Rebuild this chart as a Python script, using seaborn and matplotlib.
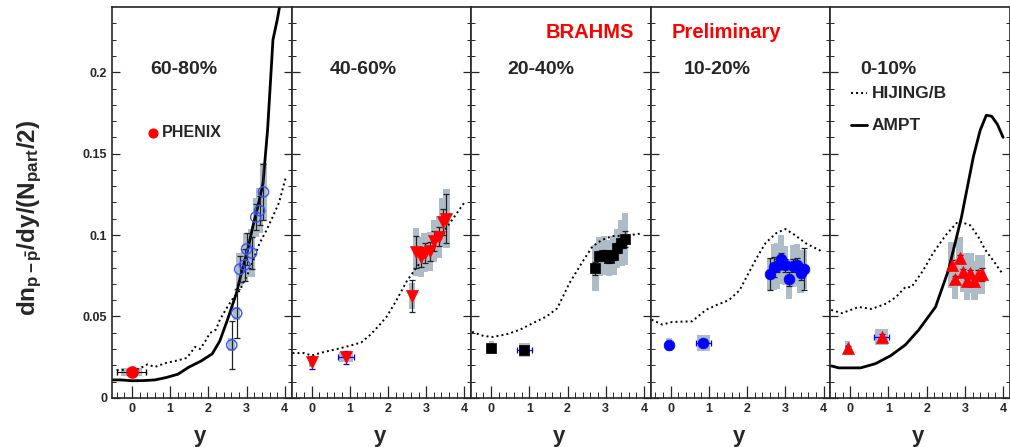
import matplotlib
matplotlib.use("Agg")
import matplotlib.pyplot as plt
import seaborn as sns
import numpy as np

sns.set_style("ticks")
plt.rcParams['font.family'] = ['Liberation Sans', 'DejaVu Sans']
plt.rcParams['font.weight'] = 'bold'
plt.rcParams['mathtext.fontset'] = 'custom'
plt.rcParams['mathtext.rm'] = 'Liberation Sans:bold'
plt.rcParams['mathtext.it'] = 'Liberation Sans:bold'
plt.rcParams['mathtext.bf'] = 'Liberation Sans:bold'

# ---------------- data ----------------
centralities = ["60-80%", "40-60%", "20-40%", "10-20%", "0-10%"]

# HIJING/B curves
hij1_x = [-0.4, -0.2, 0, 0.2, 0.4, 0.6, 0.9, 1.2, 1.43, 1.55, 1.65, 1.78, 1.9, 2.04, 2.2, 2.3, 2.45, 2.61, 2.82, 3.08, 3.34, 3.5, 3.68, 3.85, 4.02]
hij1_v = [0.017, 0.0172, 0.017, 0.018, 0.0205, 0.019, 0.0215, 0.023, 0.0245, 0.028, 0.0313, 0.030, 0.034, 0.0398, 0.042, 0.048, 0.054, 0.060, 0.066, 0.0785, 0.095, 0.102, 0.111, 0.12, 0.135]
hij2_x = [-0.5, -0.2, 0, 0.3, 0.67, 1.0, 1.3, 1.53, 1.75, 1.97, 2.2, 2.5, 2.84, 3.1, 3.36, 3.7, 4.0]
hij2_v = [0.0275, 0.0275, 0.026, 0.028, 0.030, 0.032, 0.034, 0.0386, 0.044, 0.050, 0.059, 0.072, 0.083, 0.091, 0.099, 0.11, 0.12]
hij3_x = [-0.5, -0.2, 0.04, 0.4, 0.74, 1.1, 1.45, 1.73, 2.05, 2.35, 2.65, 2.9, 3.17, 3.5, 3.95]
hij3_v = [0.0405, 0.038, 0.0374, 0.039, 0.0417, 0.046, 0.05, 0.055, 0.0705, 0.082, 0.093, 0.097, 0.0994, 0.0995, 0.101]
hij4_x = [-0.5, -0.22, 0.04, 0.56, 0.92, 1.2, 1.52, 1.8, 2.04, 2.25, 2.48, 2.75, 3.0, 3.25, 3.53, 3.95]
hij4_v = [0.048, 0.045, 0.0466, 0.047, 0.054, 0.057, 0.06, 0.066, 0.0767, 0.086, 0.095, 0.101, 0.1037, 0.1, 0.095, 0.09]
hij5_x = [-0.5, -0.22, 0.22, 0.56, 0.95, 1.2, 1.44, 1.6, 1.9, 2.17, 2.5, 2.83, 3.14, 3.35, 3.53, 3.75, 3.96]
hij5_v = [0.054, 0.052, 0.0558, 0.0546, 0.058, 0.062, 0.068, 0.068, 0.078, 0.089, 0.1, 0.1086, 0.106, 0.099, 0.091, 0.084, 0.077]

# AMPT curves
ampt1_x = [-0.52, -0.3, 0, 0.3, 0.6, 0.9, 1.2, 1.5, 1.8, 2.1, 2.3, 2.5, 2.73, 2.9, 3.05, 3.16, 3.3, 3.43, 3.55, 3.69, 3.8, 3.9]
ampt1_v = [0.011, 0.011, 0.0105, 0.0106, 0.011, 0.0125, 0.0145, 0.019, 0.0225, 0.027, 0.035, 0.048, 0.064, 0.08, 0.093, 0.105, 0.118, 0.132, 0.165, 0.22, 0.232, 0.245]
ampt5_x = [-0.5, -0.3, 0.27, 0.66, 1.05, 1.44, 1.79, 2.23, 2.57, 2.91, 3.22, 3.4, 3.56, 3.7, 3.85, 4.0]
ampt5_v = [0.0196, 0.0184, 0.0184, 0.021, 0.0258, 0.0325, 0.0417, 0.0558, 0.0785, 0.111, 0.148, 0.1644, 0.1736, 0.173, 0.168, 0.16]

# low-rapidity points (y ~ 0 and ~0.9)
low1_x = [0.0];            low1_v = [0.016];            low1_ye = [0.001];         low1_xe = [0.38];        low1_sys = [0.0025];        low1_w = [0.55]
low2_x = [0.0, 0.9];       low2_v = [0.022, 0.025];     low2_ye = [0.004, 0.004];  low2_xe = [0.05, 0.2];   low2_sys = [0.003, 0.003];  low2_w = [0.12, 0.35]
low3_x = [0.0, 0.87];      low3_v = [0.0307, 0.0294];   low3_ye = [0.001, 0.001];  low3_xe = [0.02, 0.2];   low3_sys = [0.004, 0.0045]; low3_w = [0.13, 0.3]
low4_x = [-0.04, 0.85];    low4_v = [0.0325, 0.0337];   low4_ye = [0.001, 0.001];  low4_xe = [0.02, 0.2];   low4_sys = [0.004, 0.005];  low4_w = [0.15, 0.35]
low5_x = [-0.07, 0.82];    low5_v = [0.0307, 0.0374];   low5_ye = [0.001, 0.002];  low5_xe = [0.03, 0.2];   low5_sys = [0.004, 0.005];  low5_w = [0.15, 0.33]

# forward-rapidity points
fw1_x = [2.61, 2.74, 2.82, 2.95, 3.00, 3.13, 3.24, 3.34, 3.44]
fw1_v = [0.0325, 0.052, 0.079, 0.0816, 0.0914, 0.089, 0.111, 0.115, 0.1265]
fw1_e = [0.015, 0.015, 0.008, 0.01, 0.01, 0.01, 0.008, 0.009, 0.017]
fw1_s = [0.004, 0.004, 0.01, 0.01, 0.01, 0.015, 0.012, 0.014, 0.018]
fw2_x = [2.63, 2.73, 2.86, 2.96, 3.10, 3.20, 3.33, 3.43, 3.53]
fw2_v = [0.0626, 0.0896, 0.0865, 0.089, 0.09, 0.0963, 0.099, 0.108, 0.11]
fw2_e = [0.01, 0.01, 0.006, 0.006, 0.006, 0.006, 0.006, 0.008, 0.015]
fw2_s = [0.008, 0.015, 0.012, 0.012, 0.012, 0.013, 0.013, 0.015, 0.018]
fw3_x = [2.73, 2.83, 2.96, 3.09, 3.20, 3.30, 3.41, 3.51]
fw3_v = [0.0797, 0.087, 0.0877, 0.086, 0.0877, 0.092, 0.095, 0.0975]
fw3_e = [0.004, 0.003, 0.003, 0.003, 0.003, 0.003, 0.003, 0.005]
fw3_s = [0.014, 0.012, 0.012, 0.011, 0.012, 0.012, 0.014, 0.016]
fw4_x = [2.6, 2.7, 2.78, 2.88, 2.99, 3.1, 3.2, 3.3, 3.4, 3.48]
fw4_v = [0.076, 0.0805, 0.081, 0.0852, 0.0815, 0.073, 0.081, 0.0816, 0.0766, 0.079]
fw4_e = [0.01, 0.006, 0.004, 0.004, 0.004, 0.004, 0.004, 0.004, 0.004, 0.013]
fw4_s = [0.01, 0.014, 0.014, 0.015, 0.012, 0.012, 0.013, 0.013, 0.012, 0.012]
fw5_x = [2.65, 2.74, 2.86, 2.96, 3.05, 3.14, 3.25, 3.35, 3.44]
fw5_v = [0.0816, 0.073, 0.086, 0.077, 0.072, 0.0767, 0.072, 0.0755, 0.076]
fw5_e = [0.003, 0.002, 0.002, 0.002, 0.002, 0.002, 0.002, 0.003, 0.004]
fw5_s = [0.014, 0.012, 0.013, 0.012, 0.012, 0.012, 0.012, 0.012, 0.012]

x_ticks = [0, 1, 2, 3, 4]
y_ticks = [0, 0.05, 0.1, 0.15, 0.2]
y_tick_labels = ["0", "0.05", "0.1", "0.15", "0.2"]

# ---------------- styles ----------------
GRAY = "#aebcc8"
RED = "#ff0000"
BLUE = "#0000ff"
HIJ_LS = (0, (1.0, 1.6))

fig, axes = plt.subplots(1, 5, figsize=(10.1, 4.47), dpi=100, sharey=True)
fig.subplots_adjust(left=0.111, right=1.0, bottom=0.11, top=0.984, wspace=0)

panels = [
    dict(hx=hij1_x, hv=hij1_v, ax_=ampt1_x, av=ampt1_v,
         lx=low1_x, lv=low1_v, lye=low1_ye, lxe=low1_xe, ls=low1_sys, lw=low1_w,
         fx=fw1_x, fv=fw1_v, fe=fw1_e, fs=fw1_s, marker='o', mfc='none', mec="#3355ff", msz=55),
    dict(hx=hij2_x, hv=hij2_v, ax_=None, av=None,
         lx=low2_x, lv=low2_v, lye=low2_ye, lxe=low2_xe, ls=low2_sys, lw=low2_w,
         fx=fw2_x, fv=fw2_v, fe=fw2_e, fs=fw2_s, marker='v', mfc=RED, mec=RED, msz=75),
    dict(hx=hij3_x, hv=hij3_v, ax_=None, av=None,
         lx=low3_x, lv=low3_v, lye=low3_ye, lxe=low3_xe, ls=low3_sys, lw=low3_w,
         fx=fw3_x, fv=fw3_v, fe=fw3_e, fs=fw3_s, marker='s', mfc='black', mec='black', msz=50),
    dict(hx=hij4_x, hv=hij4_v, ax_=None, av=None,
         lx=low4_x, lv=low4_v, lye=low4_ye, lxe=low4_xe, ls=low4_sys, lw=low4_w,
         fx=fw4_x, fv=fw4_v, fe=fw4_e, fs=fw4_s, marker='o', mfc=BLUE, mec=BLUE, msz=60),
    dict(hx=hij5_x, hv=hij5_v, ax_=ampt5_x, av=ampt5_v,
         lx=low5_x, lv=low5_v, lye=low5_ye, lxe=low5_xe, ls=low5_sys, lw=low5_w,
         fx=fw5_x, fv=fw5_v, fe=fw5_e, fs=fw5_s, marker='^', mfc=RED, mec=RED, msz=75),
]

label_pos = [0.40, 0.40, 0.385, 0.37, 0.32]

for i, (ax, p) in enumerate(zip(axes, panels)):
    # systematic boxes
    ax.bar(p['fx'], [2 * s for s in p['fs']], bottom=[v - s for v, s in zip(p['fv'], p['fs'])],
           width=0.17, color=GRAY, edgecolor='none', zorder=1)
    ax.bar(p['lx'], [2 * s for s in p['ls']], bottom=[v - s for v, s in zip(p['lv'], p['ls'])],
           width=p['lw'], color=GRAY, edgecolor='none', zorder=1)
    # model curves
    sns.lineplot(x=p['hx'], y=p['hv'], ax=ax, sort=False, estimator=None, color='black',
                 linewidth=1.4, linestyle=HIJ_LS, zorder=2)
    if p['ax_'] is not None:
        sns.lineplot(x=p['ax_'], y=p['av'], ax=ax, sort=False, estimator=None, color='black',
                     linewidth=2.0, zorder=2)
    # error bars
    ax.errorbar(p['fx'], p['fv'], yerr=p['fe'], fmt='none', ecolor='#222222',
                elinewidth=0.9, capsize=2, capthick=0.9, zorder=3)
    if i == 0:
        ax.errorbar(p['lx'], p['lv'], xerr=p['lxe'], yerr=p['lye'], fmt='none', ecolor='black',
                    elinewidth=0.8, capsize=2, zorder=3, linestyle='--')
        sns.scatterplot(x=p['lx'], y=p['lv'], ax=ax, marker='o', s=70, color=RED,
                        edgecolor=RED, zorder=4)
        sns.scatterplot(x=p['fx'], y=p['fv'], ax=ax, marker='o', s=p['msz'], facecolor='none',
                        edgecolor=p['mec'], linewidth=1.0, zorder=4)
    else:
        ax.errorbar(p['lx'], p['lv'], xerr=p['lxe'], yerr=p['lye'], fmt='none', ecolor=BLUE,
                    elinewidth=0.9, capsize=2, capthick=0.9, zorder=3)
        for xs, vs in ((p['lx'], p['lv']), (p['fx'], p['fv'])):
            sns.scatterplot(x=xs, y=vs, ax=ax, marker=p['marker'], s=p['msz'], color=p['mfc'],
                            edgecolor=p['mec'], linewidth=0.5, zorder=4)

    ax.set_xlim(-0.52, 4.18)
    ax.set_ylim(0, 0.24)
    ax.set_xticks(x_ticks)
    ax.set_xticklabels([str(t) for t in x_ticks], fontsize=9, fontweight='bold')
    ax.set_xticks(np.arange(-0.4, 4.2, 0.2), minor=True)
    ax.set_yticks(y_ticks)
    ax.set_yticks(np.arange(0, 0.24, 0.01), minor=True)
    ax.tick_params(axis='x', which='major', direction='in', length=9, width=0.9, pad=4)
    ax.tick_params(axis='x', which='minor', direction='in', length=4.5, width=0.7)
    ax.tick_params(axis='y', which='major', direction='in', length=6, width=0.9,
                   left=True, right=True)
    ax.tick_params(axis='y', which='minor', direction='in', length=3, width=0.7,
                   left=True, right=True)
    for sp in ax.spines.values():
        sp.set_linewidth(1.2)
        sp.set_visible(True)
    ax.set_xlabel("")
    ax.set_ylabel("")
    ax.text(0.49, -0.1, "y", transform=ax.transAxes, ha='center', va='center',
            fontsize=16, fontweight='bold')
    ax.text(label_pos[i], 0.84, centralities[i], transform=ax.transAxes, ha='center',
            va='center', fontsize=14, fontweight='bold')

axes[0].set_yticklabels(y_tick_labels, fontsize=9, fontweight='bold')

# PHENIX legend
axes[0].scatter([0.228], [0.678], transform=axes[0].transAxes, s=40, color=RED, zorder=5)
axes[0].text(0.275, 0.678, "PHENIX", transform=axes[0].transAxes, ha='left', va='center',
             fontsize=11.5, fontweight='bold')

# BRAHMS Preliminary
axes[2].text(0.66, 0.936, "BRAHMS", transform=axes[2].transAxes, ha='center', va='center',
             fontsize=14.5, fontweight='bold', color=RED)
axes[3].text(0.42, 0.936, "Preliminary", transform=axes[3].transAxes, ha='center', va='center',
             fontsize=14.5, fontweight='bold', color=RED)

# model legend
ax5 = axes[4]
ax5.plot([0.117, 0.206], [0.78, 0.78], transform=ax5.transAxes, color='black',
         linewidth=1.4, linestyle=HIJ_LS)
ax5.text(0.23, 0.78, "HIJING/B", transform=ax5.transAxes, ha='left', va='center',
         fontsize=12.5, fontweight='bold')
ax5.plot([0.117, 0.206], [0.698, 0.698], transform=ax5.transAxes, color='black', linewidth=2.0)
ax5.text(0.23, 0.698, "AMPT", transform=ax5.transAxes, ha='left', va='center',
         fontsize=12.5, fontweight='bold')

fig.text(0.03, 0.512, r"$dn_{p-\bar{p}}/dy/(N_{part}/2)$", rotation=90, ha='center',
         va='center', fontsize=17.5)

fig.savefig("out.png", dpi=100)
